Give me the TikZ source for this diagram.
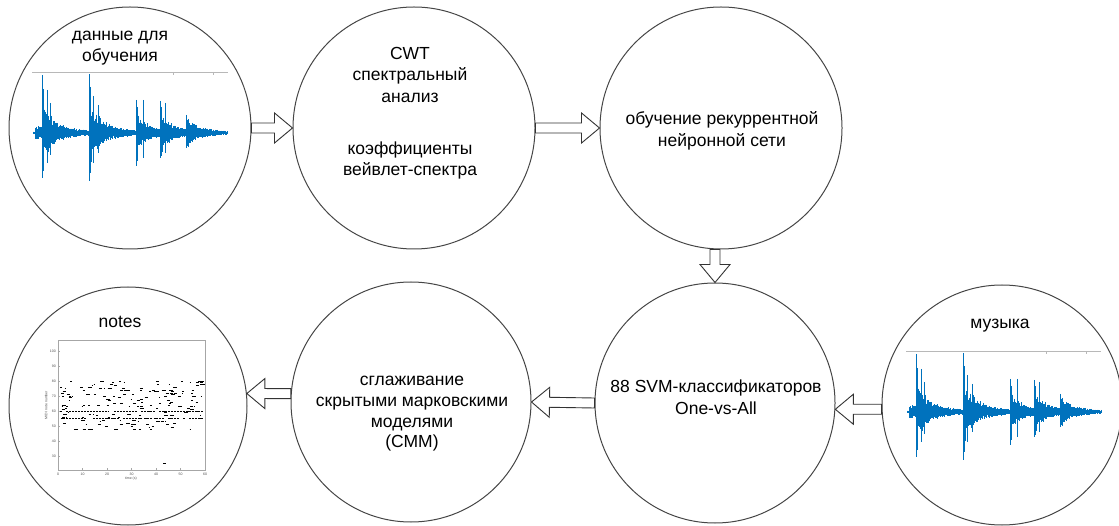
\documentclass[tikz,border=0pt]{standalone}
\usepackage{fontspec}
\setmainfont{Liberation Sans}
\usetikzlibrary{calc}
\definecolor{wavecol}{RGB}{0,114,189}
\definecolor{circcol}{RGB}{70,70,70}
\newcommand{\drawwave}[3]{%
  \pgfmathsetseed{#3}%
  \foreach \i in {0,...,388}{%
    \pgfmathsetmacro{\xx}{\i*0.5}%
    \pgfmathsetmacro{\bb}{1.5 + (\xx>=2)*(\xx<9)*6
      + (\xx>=9)*19*exp(-max(\xx-9,0)/18)
      + (\xx>=56)*19*exp(-max(\xx-56,0)/18)
      + (\xx>=103)*14*exp(-max(\xx-103,0)/13)
      + (\xx>=127)*14*exp(-max(\xx-127,0)/13)
      + (\xx>=153)*10*exp(-max(\xx-153,0)/16)}%
    \pgfmathsetmacro{\pk}{(\xx>=9)*48*exp(-max(\xx-9,0)/7)
      + (\xx>=56)*50*exp(-max(\xx-56,0)/7)
      + (\xx>=103)*26*exp(-max(\xx-103,0)/6)
      + (\xx>=127)*24*exp(-max(\xx-127,0)/6)
      + (\xx>=153)*12*exp(-max(\xx-153,0)/6)}%
    \pgfmathsetmacro{\uu}{\bb*(0.5+0.5*rnd)+\pk*rnd*rnd*rnd}%
    \pgfmathsetmacro{\dd}{0.9*(\bb*(0.5+0.5*rnd)+\pk*rnd*rnd*rnd)}%
    \draw[wavecol,line width=0.6pt] ({#1+\xx},{#2-\uu}) -- ({#1+\xx},{#2+\dd});
  }
  \foreach \sx/\su/\sd in {9/58/45,10/44/38,14/43/30,17/30/22,56/59/48,57/46/40,60/37/30,65/28/20,103/33/33,104/26/28,110/33/25,127/32/25,128/26/22,132/30/20,153/18/15,155/14/14}{
    \draw[wavecol,line width=0.8pt] ({#1+\sx},{#2-\su}) -- ({#1+\sx},{#2+\sd});
  }}
\newcommand{\blockarrow}[2]{%
  \coordinate (ba-s) at (#1);
  \coordinate (ba-t) at (#2);
  \coordinate (ba-h) at ($(ba-t)!18pt!(ba-s)$);
  \draw[barrow] ($(ba-s)!5pt!90:(ba-t)$) -- ($(ba-h)!5pt!-90:(ba-s)$)
    -- ($(ba-h)!15pt!-90:(ba-s)$) -- (ba-t) -- ($(ba-h)!15pt!90:(ba-s)$)
    -- ($(ba-h)!5pt!90:(ba-s)$) -- ($(ba-s)!5pt!-90:(ba-t)$) -- cycle;}
\begin{document}
\begin{tikzpicture}[x=1pt,y=-1pt,
  circ/.style={circle,draw=circcol,line width=1pt,minimum size=#1,inner sep=0pt},
  lbl/.style={font=\fontsize{17.5}{21.5}\selectfont,align=center,inner sep=0pt},
  barrow/.style={draw=black!80,line width=0.9pt,fill=white,line join=miter},
  axisline/.style={draw=black!28,line width=0.9pt},
  tinytxt/.style={font=\fontsize{3.5}{4}\selectfont,inner sep=0pt,text=black!70},
  plotbox/.style={draw=black!35,line width=0.5pt},
  note/.style={line width=0.95pt,black}]
\useasboundingbox (0,0) rectangle (1119,526);
% circles
\node[circ=242pt] (c1) at (130,128) {};
\node[circ=242pt] (c2) at (414,128) {};
\node[circ=242pt] (c3) at (721,128) {};
\node[circ=238pt] (c4) at (128,406) {};
\node[circ=240pt] (c5) at (411,402) {};
\node[circ=240pt] (c6) at (715,403) {};
\node[circ=240pt] (c7) at (1002,405) {};
% texts
\node[lbl] (t1) at (120,48) {данные для\\обучения};
\node[lbl] (t2) at (410,113) {CWT\\спектральный\\анализ\\[30.5pt]коэффициенты\\вейвлет-спектра};
\node[lbl] (t3) at (722,131) {обучение рекуррентной\\нейронной сети};
\node[lbl] (t4) at (120,322) {notes};
\node[lbl,font=\fontsize{17.5}{20.7}\selectfont] (t5) at (412,414) {сглаживание\\скрытыми марковскими\\моделями\\(СММ)};
\node[lbl] (t6) at (716,397) {88 SVM-классификаторов\\One-vs-All};
\node[lbl] (t7) at (1000,326) {музыка};
% waveform 1
\draw[axisline] (32,72) -- (228,72);
\draw[axisline,line width=0.6pt] (173,72) -- (173,75) (213,72) -- (213,75);
\drawwave{33}{133}{7}
% waveform 2
\draw[axisline] (906,351) -- (1101,351);
\draw[axisline,line width=0.6pt] (1046,351) -- (1046,354) (1086,351) -- (1086,354);
\drawwave{907}{412}{7}
% piano roll plot
\draw[plotbox] (58,340) rectangle (205,470);
\foreach \k in {0,...,6}{
  \node[tinytxt] (xt\k) at ({58+\k*24.5},474) {\pgfmathparse{int(\k*10)}\pgfmathresult};
  \draw[plotbox] ({58+\k*24.5},470) -- ({58+\k*24.5},468);
}
\foreach \v in {30,40,...,100}{
  \node[tinytxt,anchor=east] (yt\v) at (56,{351+(100-\v)*1.5}) {\v};
  \draw[plotbox] (58,{351+(100-\v)*1.5}) -- (60,{351+(100-\v)*1.5});
}
\node[tinytxt,rotate=90] (ylab) at (46,405) {MIDI note number};
\node[tinytxt] (xlab) at (131,479) {time (s)};
\pgfmathsetseed{11}
\foreach \r in {60,55}{
  \foreach \j in {0,...,47}{
    \pgfmathsetmacro{\pp}{rnd}
    \ifdim\pp pt<0.75pt
      \draw[note] ({60+\j*3},{351+(100-\r)*1.5}) -- ({62.2+\j*3},{351+(100-\r)*1.5});
    \fi
  }
}
\foreach \j in {1,...,170}{
  \pgfmathsetmacro{\nx}{60+rnd*142}
  \pgfmathsetmacro{\nv}{int(48+rnd*33)}
  \pgfmathsetmacro{\nl}{1+rnd*3}
  \draw[note] (\nx,{351+(100-\nv)*1.5}) -- ({min(\nx+\nl,204.5)},{351+(100-\nv)*1.5});
}
\foreach \nx/\nv in {196/79,198/80,200/79,202/78,196/77,170/72,172/71,174/72,171/73,120/74,122/75,124/74,163/25}{
  \draw[note] (\nx,{351+(100-\nv)*1.5}) -- ({\nx+2.5},{351+(100-\nv)*1.5});
}
% arrows
\blockarrow{c1.east}{c2.west}
\blockarrow{c2.east}{c3.west}
\blockarrow{c6.north |- c3.south}{c6.north}
\blockarrow{c7.182}{c6.-3}
\blockarrow{c6.west}{c5.east}
\blockarrow{c5.176}{c4.6}
\end{tikzpicture}
\end{document}
